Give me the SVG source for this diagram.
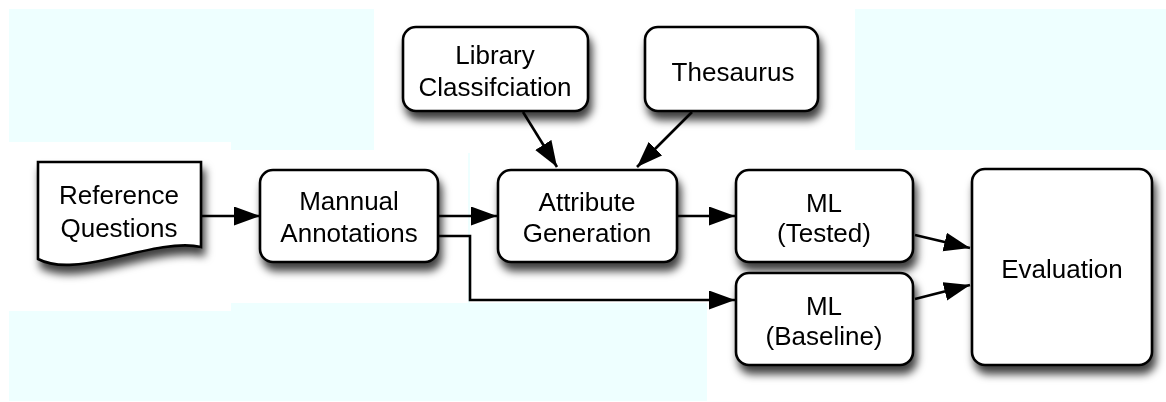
<svg xmlns="http://www.w3.org/2000/svg" width="1166" height="402" viewBox="0 0 1166 402">
<style>
.bg{fill:#eeffff;stroke:none}
.node{fill:#ffffff;stroke:#000000;stroke-width:2.6}
.lbl{font-family:"Liberation Sans",Arial,Helvetica,sans-serif;font-size:26px;fill:#000000;text-anchor:middle}
.edge{fill:none;stroke:#000000;stroke-width:2.6;marker-end:url(#arrow)}
</style>
<defs>
<filter id="shadow" x="-20%" y="-20%" width="150%" height="160%">
<feDropShadow dx="3" dy="8" stdDeviation="4.5" flood-color="#000000" flood-opacity="0.75"/>
</filter>
<marker id="arrow" markerUnits="userSpaceOnUse" markerWidth="28" markerHeight="20" refX="26" refY="9.5" orient="auto">
<path d="M0,0 L26,9.5 L0,19 Z" fill="#000000"/>
</marker>
</defs>
<rect width="1166" height="402" fill="#ffffff"/>
<g id="background">
<rect class="bg" x="9" y="9" width="365" height="133"/>
<rect class="bg" x="231" y="9" width="143" height="141"/>
<rect class="bg" x="855" y="9" width="311" height="141"/>
<rect class="bg" x="9" y="311" width="222" height="90"/>
<rect class="bg" x="231" y="303" width="476" height="98"/>
<rect class="bg" x="468" y="153" width="2" height="150"/>
</g>
<g id="connectors">
<line class="edge" x1="201" y1="216" x2="260" y2="216"/>
<line class="edge" x1="438" y1="216" x2="497" y2="216"/>
<polyline class="edge" points="438,236 470,236 470,300 735,300"/>
<line class="edge" x1="677" y1="216" x2="735" y2="216"/>
<line class="edge" x1="523" y1="112" x2="557" y2="167"/>
<line class="edge" x1="692" y1="112" x2="637" y2="167"/>
<line class="edge" x1="915" y1="235" x2="970" y2="248"/>
<line class="edge" x1="915" y1="299" x2="970" y2="285"/>
</g>
<g id="reference-questions" filter="url(#shadow)">
<path class="node" d="M38,162 H201 V247 C180,242 150,249 113,258 C80,266 55,268 38,259 Z"/>
<text class="lbl" x="119" y="204">Reference</text>
<text class="lbl" x="119" y="237">Questions</text>
</g>
<g id="mannual-annotations" filter="url(#shadow)">
<rect class="node" x="260" y="170" width="178" height="92" rx="13"/>
<text class="lbl" x="349" y="210">Mannual</text>
<text class="lbl" x="349" y="242">Annotations</text>
</g>
<g id="library-classification" filter="url(#shadow)">
<rect class="node" x="403" y="27" width="185" height="84" rx="13"/>
<text class="lbl" x="495" y="64">Library</text>
<text class="lbl" x="495" y="96">Classifciation</text>
</g>
<g id="thesaurus" filter="url(#shadow)">
<rect class="node" x="645" y="27" width="173" height="84" rx="13"/>
<text class="lbl" x="733" y="81">Thesaurus</text>
</g>
<g id="attribute-generation" filter="url(#shadow)">
<rect class="node" x="498" y="170" width="179" height="92" rx="13"/>
<text class="lbl" x="587" y="211">Attribute</text>
<text class="lbl" x="587" y="242">Generation</text>
</g>
<g id="ml-tested" filter="url(#shadow)">
<rect class="node" x="736" y="170" width="177" height="92" rx="13"/>
<text class="lbl" x="824" y="212">ML</text>
<text class="lbl" x="824" y="242">(Tested)</text>
</g>
<g id="ml-baseline" filter="url(#shadow)">
<rect class="node" x="736" y="273" width="177" height="92" rx="13"/>
<text class="lbl" x="824" y="315">ML</text>
<text class="lbl" x="824" y="345">(Baseline)</text>
</g>
<g id="evaluation" filter="url(#shadow)">
<rect class="node" x="972" y="169" width="180" height="196" rx="13"/>
<text class="lbl" x="1062" y="278">Evaluation</text>
</g>
</svg>
